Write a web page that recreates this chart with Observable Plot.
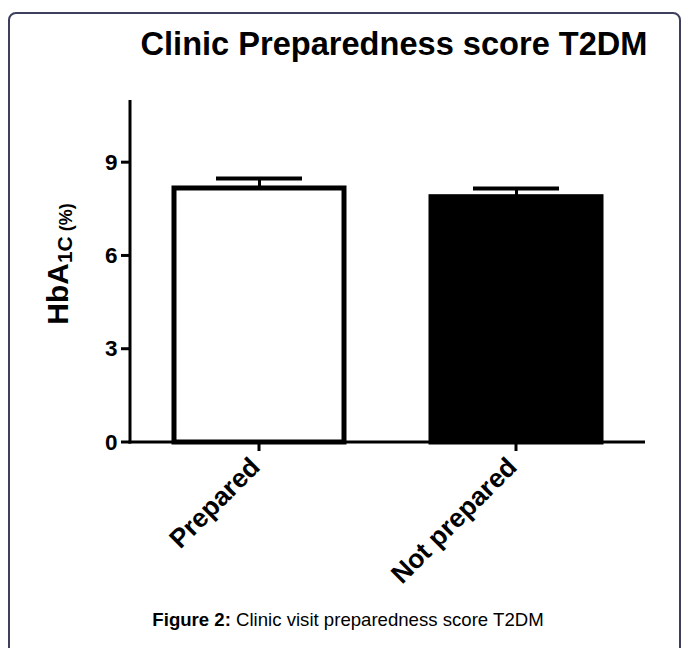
<!DOCTYPE html>
<html>
<head>
<meta charset="utf-8">
<script src="https://cdn.jsdelivr.net/npm/d3@7"></script>
<script src="https://cdn.jsdelivr.net/npm/@observablehq/plot@0.6"></script>
<style>
  html, body { margin: 0; padding: 0; background: white; }
  #wrap { position: relative; width: 683px; height: 648px; overflow: hidden; font-family: "Liberation Sans", Arial, sans-serif; }
  #frame { position: absolute; left: 8px; top: 12px; width: 673px; height: 700px; border: 2px solid #3e3e5e; border-radius: 8px 8px 0 0; box-sizing: border-box; pointer-events: none; }
  #title { position: absolute; left: 0; width: 683px; top: 28px; text-align: center; padding-left: 105px; box-sizing: border-box; font-size: 32.6px; line-height: 32.6px; font-weight: bold; color: #000; }
  #caption { position: absolute; left: 0; width: 683px; top: 611px; text-align: center; font-size: 18.6px; line-height: 18.6px; color: #000; padding-left: 13px; box-sizing: border-box; }
  #chart { position: absolute; left: 0; top: 0; }
</style>
</head>
<body>
<div id="wrap">
  <div id="chart"></div>
  <div id="title">Clinic Preparedness score T2DM</div>
  <div id="caption"><b>Figure 2:</b> Clinic visit preparedness score T2DM</div>
  <div id="frame"></div>
</div>
<script>
const categories = ["Prepared", "Not prepared"];
const means = [8.17, 7.89];
const errors = [0.32, 0.28];
const fills = ["white", "black"];
const yTicks = [0, 3, 6, 9];
const yMax = 11;

const data = categories.map((c, i) => ({cat: c, mean: means[i], err: errors[i], fill: fills[i]}));

// axis lines and ticks drawn from the plot's own scales
function axesLines(index, scales, values, dims) {
  const g = d3.create("svg:g").attr("stroke", "black").attr("stroke-width", 3).attr("fill", "none");
  const xs = scales.x, ys = scales.y;
  const bw = xs.bandwidth ? xs.bandwidth() : 0;
  const x0 = dims.marginLeft, x1 = dims.width - dims.marginRight;
  const yb = ys(0), yt = ys(yMax);
  g.append("line").attr("x1", x0).attr("x2", x0).attr("y1", yt).attr("y2", yb + 1.5);
  g.append("line").attr("x1", x0 - 1.5).attr("x2", x1).attr("y1", yb).attr("y2", yb);
  for (const t of yTicks) {
    g.append("line").attr("x1", x0 - 9).attr("x2", x0).attr("y1", ys(t)).attr("y2", ys(t));
  }
  for (const c of categories) {
    const cx = xs(c) + bw / 2;
    g.append("line").attr("x1", cx).attr("x2", cx).attr("y1", yb).attr("y2", yb + 9);
  }
  return g.node();
}

const chart = Plot.plot({
  width: 683,
  height: 648,
  marginTop: 100,
  marginBottom: 206,
  marginLeft: 130,
  marginRight: 38,
  style: {fontFamily: "'Liberation Sans', Arial, sans-serif", background: "transparent", color: "black"},
  x: {domain: categories, paddingInner: 0.34, paddingOuter: 0.17},
  y: {domain: [0, yMax]},
  marks: [
    Plot.barY(data, {x: "cat", y: "mean", fill: d => d.fill, stroke: "black", strokeWidth: 5}),
    Plot.ruleX(data, {x: "cat", y1: "mean", y2: d => d.mean + d.err, stroke: "black", strokeWidth: 3}),
    Plot.tickY(data, {x: "cat", y: d => d.mean + d.err, stroke: "black", strokeWidth: 4, insetLeft: 42, insetRight: 42}),
    Plot.axisY({ticks: yTicks, tickFormat: d => String(d), tickSize: 0, tickPadding: 13, fill: "black", fontSize: 22.5, fontWeight: "bold", label: null}),
    Plot.axisX({tickSize: 0, tickPadding: 20, dx: -4, tickRotate: -45, fill: "black", fontSize: 26.5, fontWeight: "bold", label: null}),
    axesLines
  ]
});
document.getElementById("chart").appendChild(chart);

const svg = d3.select(chart);
const lab = svg.append("text")
  .attr("transform", "translate(68,264) rotate(-90)")
  .attr("text-anchor", "middle")
  .attr("font-family", "'Liberation Sans', Arial, sans-serif")
  .attr("font-weight", "bold")
  .attr("fill", "black");
lab.append("tspan").attr("font-size", 30).text("HbA");
lab.append("tspan").attr("font-size", 21).attr("dy", 4).text("1C");
lab.append("tspan").attr("font-size", 18).text("\u00a0(%)");
</script>
</body>
</html>
